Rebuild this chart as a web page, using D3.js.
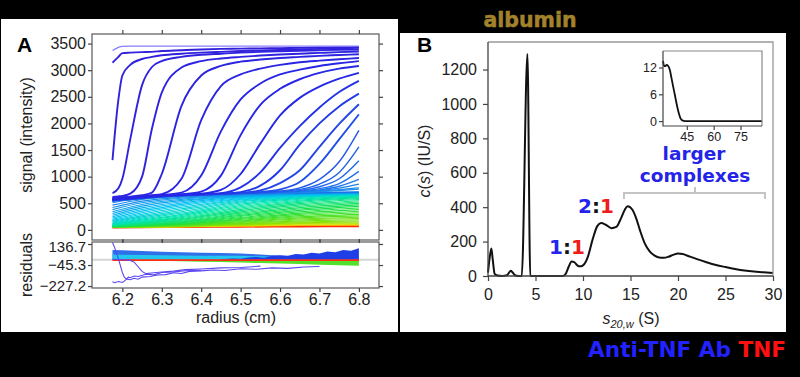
<!DOCTYPE html>
<html>
<head>
<meta charset="utf-8">
<script src="https://cdn.jsdelivr.net/npm/d3@7"></script>
<style>
body{margin:0;background:#000;}
svg{display:block;font-family:"Liberation Sans",Arial,sans-serif;}
.ax text{font-size:16px;fill:#222;}
.ax line{stroke:#444;stroke-width:1.2;}
.ax .domain{display:none;}
.inset text{font-size:12.5px;}
</style>
</head>
<body>
<svg id="fig" width="800" height="377"></svg>
<script>
// ---- panel A : raw scans ----
var scanRadius = [6.175, 6.19, 6.2, 6.22, 6.25, 6.275, 6.3, 6.35, 6.4, 6.45, 6.5, 6.55, 6.6, 6.65, 6.7, 6.75, 6.8];
var firstFit = [3370, 3430, 3448, 3452, 3452, 3452, 3452, 3452, 3452, 3452, 3452, 3452, 3452, 3452, 3452, 3452, 3452];
var scanSignal = [
  [3140, 3250, 3320, 3330, 3340, 3345, 3360, 3375, 3390, 3400, 3405, 3410, 3415, 3420, 3425, 3430, 3435],
  [1310, 2450, 2900, 3100, 3210, 3250, 3280, 3310, 3330, 3345, 3360, 3370, 3380, 3390, 3400, 3410, 3420],
  [690, 780, 960, 1700, 2720, 3060, 3170, 3250, 3290, 3310, 3330, 3345, 3355, 3365, 3375, 3385, 3390],
  [620, 630, 640, 680, 1000, 1900, 2580, 3050, 3170, 3220, 3250, 3275, 3295, 3310, 3325, 3340, 3350],
  [600, 610, 615, 625, 650, 700, 1050, 2330, 2900, 3080, 3160, 3200, 3230, 3250, 3270, 3285, 3300],
  [590, 600, 605, 615, 635, 650, 670, 960, 2060, 2700, 2920, 3030, 3100, 3150, 3180, 3205, 3230],
  [580, 590, 595, 605, 625, 640, 655, 700, 1020, 1850, 2450, 2750, 2920, 3010, 3080, 3130, 3170],
  [575, 585, 590, 600, 620, 635, 648, 670, 720, 1020, 1780, 2350, 2650, 2830, 2950, 3030, 3080],
  [570, 580, 585, 595, 615, 630, 643, 662, 680, 750, 1050, 1620, 2150, 2480, 2690, 2840, 2950],
  [565, 575, 580, 590, 610, 625, 638, 657, 672, 690, 800, 1080, 1540, 1950, 2300, 2590, 2800],
  [562, 572, 577, 587, 607, 622, 635, 654, 668, 682, 710, 830, 1120, 1600, 2000, 2320, 2560],
  [560, 570, 575, 585, 605, 620, 633, 652, 665, 678, 695, 740, 880, 1120, 1560, 1990, 2360],
  [558, 568, 573, 583, 603, 618, 631, 650, 663, 676, 690, 710, 760, 900, 1240, 1700, 2170],
  [556, 566, 571, 581, 601, 616, 629, 648, 661, 674, 688, 703, 730, 790, 950, 1280, 1870],
  [554, 564, 569, 579, 599, 614, 627, 646, 659, 672, 686, 700, 718, 760, 860, 1080, 1560],
  [552, 562, 567, 577, 597, 612, 625, 644, 657, 670, 684, 697, 712, 740, 810, 960, 1300],
  [550, 560, 565, 575, 595, 610, 623, 642, 655, 668, 682, 694, 707, 728, 775, 870, 1100],
  [548, 558, 563, 573, 593, 608, 621, 640, 653, 666, 679, 691, 703, 720, 752, 820, 950],
  [546, 556, 561, 571, 591, 606, 619, 638, 651, 664, 677, 689, 700, 714, 738, 785, 860],
  [544, 554, 559, 569, 589, 604, 617, 636, 649, 662, 675, 687, 698, 710, 727, 757, 790],
  [542, 552, 557, 567, 587, 602, 615, 634, 647, 660, 673, 685, 696, 706, 720, 740, 765]
];
// dense lower band of late scans
var bandRadius = [6.175, 6.25, 6.35, 6.5, 6.65, 6.8];
var bandSignal = [
  [560, 625, 662, 686, 700, 712], [510, 598, 646, 678, 696, 709], [465, 570, 630, 670, 692, 706],
  [420, 540, 612, 662, 688, 703], [380, 510, 594, 654, 684, 700], [342, 478, 574, 645, 679, 697],
  [308, 446, 553, 636, 674, 694], [276, 414, 530, 626, 669, 691], [248, 382, 506, 615, 664, 688],
  [222, 352, 480, 603, 658, 685], [198, 322, 452, 590, 652, 681], [178, 294, 424, 576, 645, 677],
  [160, 268, 396, 560, 637, 672], [144, 244, 368, 543, 628, 667], [130, 222, 342, 524, 618, 661],
  [118, 202, 316, 504, 606, 654], [108, 184, 292, 482, 592, 645], [100, 168, 270, 458, 576, 634],
  [93, 154, 249, 434, 558, 621], [87, 142, 230, 410, 538, 606], [82, 131, 212, 386, 516, 589],
  [78, 121, 196, 362, 493, 570], [74, 112, 181, 338, 469, 548], [71, 105, 167, 315, 444, 524],
  [68, 98, 154, 293, 418, 498], [66, 92, 142, 272, 392, 470], [64, 87, 131, 252, 366, 441],
  [62, 82, 121, 233, 340, 411], [60, 78, 112, 215, 315, 381], [58.5, 74, 104, 198, 291, 351],
  [57, 71, 97, 182, 268, 321], [55.5, 68, 91, 167, 246, 292], [54, 65, 86, 153, 225, 264],
  [53, 63, 81, 140, 205, 238], [52, 61, 77, 128, 186, 213], [51, 59, 73, 117, 168, 190],
  [50, 57, 70, 107, 151, 168], [49, 56, 67, 98, 135, 148], [48, 54, 64, 90, 120, 130],
  [47, 53, 61, 82, 106, 114], [46, 51, 58, 75, 93, 100], [45, 50, 56, 68, 81, 87],
  [44, 48, 52, 58, 63, 66]
];
var signalTicks = [0, 500, 1000, 1500, 2000, 2500, 3000, 3500];
var radiusTicks = [6.2, 6.3, 6.4, 6.5, 6.6, 6.7, 6.8];

// ---- panel A : residuals ----
var resRadius = [6.175, 6.2, 6.25, 6.3, 6.35, 6.4, 6.45, 6.5, 6.55, 6.6, 6.65, 6.7, 6.75, 6.8];
var earlyResTop = [85, 82, 76, 70, 66, 62, 58, 54, 45, 35, 25, 15, 8, 4];
var earlyResMid = [45, 44, 42, 40, 38, 36, 35, 34, 30, 24, 18, 10, 5, 2];
var greenResLow = [-3, -4, -6, -9, -12, -16, -20, -24, -28, -32, -37, -42, -47, -52];
var redResidual = [-3, -3, -3, -3, -3, -3, -3, -3, -3, -3, -3, -3, -3, -3];
var lateRadius = [6.45, 6.48, 6.5, 6.52, 6.54, 6.56, 6.58, 6.6, 6.62, 6.64, 6.66, 6.68, 6.7, 6.72, 6.74, 6.76, 6.78, 6.8];
var lateResTop = [5, 12, 8, 20, 25, 18, 35, 40, 34, 50, 45, 60, 55, 72, 66, 85, 78, 100];
var purpleR1 = [6.175, 6.18, 6.185, 6.19, 6.195, 6.2, 6.205, 6.21, 6.22, 6.23, 6.24, 6.25, 6.27, 6.29, 6.31, 6.33, 6.35, 6.37, 6.4, 6.43, 6.46, 6.5, 6.54, 6.58, 6.62, 6.66, 6.7];
var purpleV1 = [150, 110, 60, 10, -50, -110, -150, -165, -172, -160, -168, -150, -145, -132, -128, -112, -118, -100, -96, -88, -92, -78, -82, -70, -74, -62, -58];
var purpleR2 = [6.175, 6.18, 6.19, 6.2, 6.205, 6.21, 6.215, 6.22, 6.23, 6.24, 6.26, 6.28, 6.3, 6.33, 6.36, 6.4];
var purpleV2 = [-190, -198, -188, -196, -185, -170, -150, -155, -140, -145, -125, -130, -110, -105, -95, -90];
var purpleR3 = [6.175, 6.2, 6.22, 6.23, 6.24, 6.25, 6.26, 6.28, 6.3, 6.33, 6.36, 6.4, 6.45, 6.5, 6.55];
var purpleV3 = [5, 0, -5, -20, -60, -100, -120, -112, -105, -98, -85, -80, -70, -66, -55];
var residualTicks = [136.7, -45.3, -227.2];

// ---- panel B : c(s) distribution ----
var sedS = [0, 0.15, 0.35, 0.5, 0.7, 1.0, 1.5, 2.0, 2.4, 2.6, 2.9, 3.2, 3.55, 4.15, 4.45, 5, 6, 7, 7.9, 8.2, 8.5, 8.8, 9.1, 9.4, 9.7, 10, 10.5, 11, 11.5, 11.9, 12.4, 13, 13.5, 14, 14.4, 14.7, 15.2, 15.6, 16, 16.5, 17, 17.5, 18, 18.5, 19, 19.5, 20, 20.5, 21, 22, 23, 24, 25, 26, 27, 28, 29, 30];
var sedC = [20, 95, 160, 95, 12, 3, 0, 5, 30, 20, 3, 0, 0, 1290, 0, 0, 0, 0, 0, 15, 55, 85, 80, 62, 56, 62, 110, 210, 290, 308, 298, 278, 285, 335, 385, 405, 385, 335, 265, 190, 145, 120, 108, 106, 112, 123, 131, 128, 118, 98, 80, 64, 52, 41, 32, 26, 22, 17];
var sTicks = [0, 5, 10, 15, 20, 25, 30];
var cTicks = [0, 200, 400, 600, 800, 1000, 1200];
var insetS = [31.7, 32.3, 33, 33.7, 34.5, 35.5, 36.5, 37.5, 38.5, 39.5, 40.5, 41.5, 42.5, 44, 50, 60, 70, 80, 87];
var insetC = [13.5, 12.4, 12.3, 12.6, 12.4, 11.5, 9.5, 7.5, 5.5, 3.5, 1.8, 0.6, 0.15, 0, 0, 0, 0, 0, 0];
var insetSTicks = [45, 60, 75];
var insetCTicks = [0, 6, 12];

var svg = d3.select("#fig");
var BOLD = "'DejaVu Sans', Verdana, sans-serif";
var plain = d3.format("d");

svg.append("rect").attr("width", 800).attr("height", 377).attr("fill", "#000");
svg.append("rect").attr("x", 1).attr("y", 19).attr("width", 397).attr("height", 313).attr("fill", "#fff");
svg.append("rect").attr("x", 400).attr("y", 33).attr("width", 386).attr("height", 299).attr("fill", "#fff");

// ================= panel A =================
var xA = d3.scaleLinear().domain([6.123, 6.851]).range([92, 379]);
var ySig = d3.scaleLinear().domain([-190, 3680]).range([240, 34]);
var yRes = d3.scaleLinear().domain([-244, 154]).range([288, 242]);

var defs = svg.append("defs");
defs.append("clipPath").attr("id", "clipTop").append("rect")
    .attr("x", 92).attr("y", 34).attr("width", 287).attr("height", 206);
defs.append("clipPath").attr("id", "clipRes").append("rect")
    .attr("x", 92).attr("y", 242).attr("width", 287).attr("height", 46);

function sigLine(radii) {
  return d3.line()
    .x(function(d, i) { return xA(radii[i]); })
    .y(function(d) { return ySig(d); })
    .curve(d3.curveMonotoneX);
}

var gTop = svg.append("g").attr("clip-path", "url(#clipTop)");

var bandColor = d3.scaleLinear()
    .domain([0, 9, 17, 27, 37, 40, 41, 42])
    .range(["#1f74e6", "#00c4f2", "#00e4b0", "#1ee040", "#8ee000", "#e0e000", "#ff9a00", "#ff2a00"]);

// late scans drawn last-first so the earlier ones stay on top
bandSignal.slice().reverse().forEach(function(row, k) {
  var i = bandSignal.length - 1 - k;
  gTop.append("path")
    .attr("d", sigLine(bandRadius)(row))
    .attr("fill", "none")
    .attr("stroke", bandColor(i))
    .attr("stroke-width", i == bandSignal.length - 1 ? 1.8 : 1.1);
});

var scanColor = d3.scaleLinear().domain([0, 8, 14, 20])
    .range(["#3320dc", "#2428e6", "#2162ea", "#1e92ec"]);

scanSignal.slice().reverse().forEach(function(row, k) {
  var i = scanSignal.length - 1 - k;
  gTop.append("path")
    .attr("d", sigLine(scanRadius)(row))
    .attr("fill", "none")
    .attr("stroke", scanColor(i))
    .attr("stroke-width", i < 13 ? 1.9 : 1.4);
});

gTop.append("path")
    .attr("d", sigLine(scanRadius)(firstFit))
    .attr("fill", "none")
    .attr("stroke", "#8a7cff")
    .attr("stroke-width", 1.3);

// residuals
var gRes = svg.append("g").attr("clip-path", "url(#clipRes)");

gRes.append("line")
    .attr("x1", 92).attr("x2", 379)
    .attr("y1", yRes(0)).attr("y2", yRes(0))
    .attr("stroke", "#d4d4d4").attr("stroke-width", 2);

function resArea(radii, lo, hi) {
  return d3.area()
    .x(function(d, i) { return xA(radii[i]); })
    .y0(function(d, i) { return yRes(lo[i]); })
    .y1(function(d, i) { return yRes(hi[i]); })(radii);
}
var zeros = resRadius.map(function() { return 0; });
var lateZeros = lateRadius.map(function() { return 0; });

gRes.append("path").attr("d", resArea(resRadius, greenResLow, zeros)).attr("fill", "#52e02a");
gRes.append("path").attr("d", resArea(resRadius, zeros, earlyResTop)).attr("fill", "#2f6fe8");
gRes.append("path").attr("d", resArea(resRadius, zeros, earlyResMid)).attr("fill", "#22c6ee");
gRes.append("path").attr("d", resArea(lateRadius, lateZeros, lateResTop)).attr("fill", "#1f3fe6");

function resLine(radii) {
  return d3.line()
    .x(function(d, i) { return xA(radii[i]); })
    .y(function(d) { return yRes(d); });
}
gRes.append("path").attr("d", resLine(resRadius)(redResidual))
    .attr("fill", "none").attr("stroke", "#ff3010").attr("stroke-width", 1.6);

[[purpleR1, purpleV1], [purpleR2, purpleV2], [purpleR3, purpleV3]].forEach(function(p) {
  gRes.append("path").attr("d", resLine(p[0])(p[1]))
    .attr("fill", "none").attr("stroke", "#5a46f0").attr("stroke-width", 1.1);
});

// frames + axes
[[34, 206], [242, 46]].forEach(function(f) {
  svg.append("rect").attr("x", 92).attr("y", f[0]).attr("width", 287).attr("height", f[1])
    .attr("fill", "none").attr("stroke", "#666").attr("stroke-width", 1.3);
});

svg.append("g").attr("class", "ax").attr("transform", "translate(92,0)")
    .call(d3.axisLeft(ySig).tickValues(signalTicks).tickSize(4).tickPadding(2).tickFormat(plain));
svg.append("g").attr("class", "ax").attr("transform", "translate(379,0)")
    .call(d3.axisRight(ySig).tickValues(signalTicks).tickSize(4).tickFormat(""));
svg.append("g").attr("class", "ax").attr("transform", "translate(0,34)")
    .call(d3.axisTop(xA).tickValues(radiusTicks).tickSize(4).tickFormat(""));
svg.append("g").attr("class", "ax").attr("transform", "translate(0,240)")
    .call(d3.axisBottom(xA).tickValues(radiusTicks).tickSize(3).tickFormat(""));

svg.append("g").attr("class", "ax res").attr("transform", "translate(92,0)")
    .call(d3.axisLeft(yRes).tickValues(residualTicks).tickSize(4).tickPadding(2)
      .tickFormat(function(d) { return d3.format(".1f")(d).replace("-", "\u2212"); }));
svg.selectAll(".res text").style("font-size", "15px");
// nudge the top residual label so it clears the "0" above it
svg.selectAll(".res .tick").filter(function(d) { return d > 0; })
    .select("text").attr("y", 3);
svg.append("g").attr("class", "ax").attr("transform", "translate(379,0)")
    .call(d3.axisRight(yRes).tickValues(residualTicks).tickSize(4).tickFormat(""));
svg.append("g").attr("class", "ax").attr("transform", "translate(0,242)")
    .call(d3.axisTop(xA).tickValues(radiusTicks).tickSize(3).tickFormat(""));
svg.append("g").attr("class", "ax").attr("transform", "translate(0,288)")
    .call(d3.axisBottom(xA).tickValues(radiusTicks).tickSize(4).tickPadding(2).tickFormat(d3.format(".1f")));

svg.append("text").attr("transform", "translate(32,135) rotate(-90)")
    .attr("text-anchor", "middle").style("font-size", "16px").attr("fill", "#222")
    .text("signal (intensity)");
svg.append("text").attr("transform", "translate(32,265) rotate(-90)")
    .attr("text-anchor", "middle").style("font-size", "16px").attr("fill", "#222")
    .text("residuals");
svg.append("text").attr("x", 236).attr("y", 323)
    .attr("text-anchor", "middle").style("font-size", "16px").attr("fill", "#222")
    .text("radius (cm)");
svg.append("text").attr("x", 17).attr("y", 52)
    .style("font-size", "21px").style("font-weight", "bold").text("A");

// ================= panel B =================
var xB = d3.scaleLinear().domain([0, 30]).range([488, 773]);
var yB = d3.scaleLinear().domain([0, 1360]).range([276, 42]);

svg.append("path")
    .attr("d", d3.line()
      .x(function(d, i) { return xB(sedS[i]); })
      .y(function(d) { return yB(d); })
      .curve(d3.curveMonotoneX)(sedC))
    .attr("fill", "none").attr("stroke", "#111").attr("stroke-width", 2);

svg.append("path").attr("d", "M488,42H773V276").attr("fill", "none").attr("stroke", "#999").attr("stroke-width", 1.3);
svg.append("path").attr("d", "M488,42V276H773").attr("fill", "none").attr("stroke", "#444").attr("stroke-width", 1.3);

svg.append("g").attr("class", "ax").attr("transform", "translate(488,0)")
    .call(d3.axisLeft(yB).tickValues(cTicks).tickSize(5).tickPadding(6).tickFormat(plain));
svg.append("g").attr("class", "ax").attr("transform", "translate(0,276)")
    .call(d3.axisBottom(xB).tickValues(sTicks).tickSize(5).tickPadding(8));

var yTitle = svg.append("text").attr("transform", "translate(430,161) rotate(-90)")
    .attr("text-anchor", "middle").style("font-size", "16px").attr("fill", "#222");
yTitle.append("tspan").style("font-style", "italic").text("c");
yTitle.append("tspan").text("(");
yTitle.append("tspan").style("font-style", "italic").text("s");
yTitle.append("tspan").text(") (IU/S)");

var xTitle = svg.append("text").attr("x", 631).attr("y", 324)
    .attr("text-anchor", "middle").style("font-size", "16px").attr("fill", "#222");
xTitle.append("tspan").style("font-style", "italic").text("s");
xTitle.append("tspan").style("font-style", "italic").style("font-size", "11px").attr("dy", 4).text("20,w");
xTitle.append("tspan").attr("dy", -4).text(" (S)");

svg.append("text").attr("x", 417).attr("y", 52)
    .style("font-size", "21px").style("font-weight", "bold").text("B");

// inset
var xI = d3.scaleLinear().domain([31.7, 87]).range([663, 762]);
var yI = d3.scaleLinear().domain([-1.1, 15.7]).range([126, 51]);
svg.append("path")
    .attr("d", d3.line()
      .x(function(d, i) { return xI(insetS[i]); })
      .y(function(d) { return yI(d); })
      .curve(d3.curveMonotoneX)(insetC))
    .attr("fill", "none").attr("stroke", "#111").attr("stroke-width", 1.8);
svg.append("path").attr("d", "M663,51H762V126").attr("fill", "none").attr("stroke", "#888").attr("stroke-width", 1.2);
svg.append("path").attr("d", "M663,51V126H762").attr("fill", "none").attr("stroke", "#444").attr("stroke-width", 1.2);
svg.append("g").attr("class", "ax inset").attr("transform", "translate(663,0)")
    .call(d3.axisLeft(yI).tickValues(insetCTicks).tickSize(4).tickPadding(2));
svg.append("g").attr("class", "ax inset").attr("transform", "translate(0,126)")
    .call(d3.axisBottom(xI).tickValues(insetSTicks).tickSize(4).tickPadding(2));

// annotations
svg.append("path").attr("d", "M624,199V193H765V199M695,193V187")
    .attr("fill", "none").attr("stroke", "#c4c4c4").attr("stroke-width", 2);
svg.append("text").attr("x", 694).attr("y", 160).attr("text-anchor", "middle")
    .style("font-family", BOLD).style("font-weight", "bold").style("font-size", "18.5px")
    .attr("fill", "#2424e8").text("larger");
svg.append("text").attr("x", 695).attr("y", 182).attr("text-anchor", "middle")
    .style("font-family", BOLD).style("font-weight", "bold").style("font-size", "18.5px")
    .attr("fill", "#2424e8").text("complexes");

function ratioLabel(x, y, a) {
  var t = svg.append("text").attr("x", x).attr("y", y)
    .style("font-family", BOLD).style("font-weight", "bold").style("font-size", "20px");
  t.append("tspan").attr("fill", "#2424ee").text(a);
  t.append("tspan").attr("fill", "#111").text(":");
  t.append("tspan").attr("fill", "#ee1c1c").text("1");
}
ratioLabel(549, 254, "1");
ratioLabel(578, 213, "2");

svg.append("text").attr("x", 530).attr("y", 27).attr("text-anchor", "middle")
    .style("font-family", BOLD).style("font-weight", "bold").style("font-size", "20.5px")
    .attr("fill", "#a2822a").attr("stroke", "#a2822a").attr("stroke-width", 0.5)
    .text("albumin");

var legend = svg.append("text").attr("x", 786).attr("y", 357).attr("text-anchor", "end")
    .style("font-family", BOLD).style("font-weight", "bold").style("font-size", "21.6px");
legend.append("tspan").attr("fill", "#2222ff").text("Anti-TNF Ab ");
legend.append("tspan").attr("fill", "#ff1010").text("TNF");
</script>
</body>
</html>
